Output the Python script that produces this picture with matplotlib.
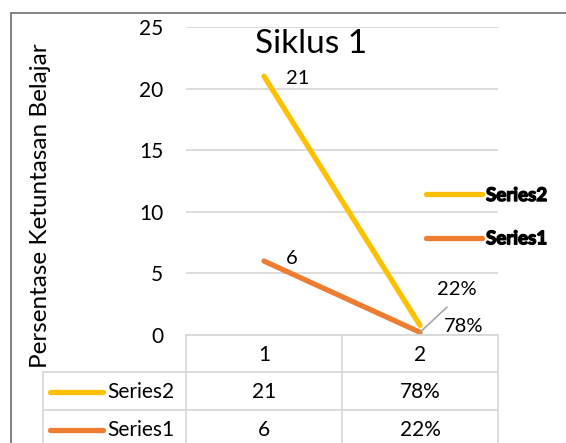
import matplotlib.pyplot as plt
from matplotlib.lines import Line2D
from matplotlib.patches import Rectangle
import matplotlib.patheffects as pe

plt.rcParams['font.family'] = ['Lato', 'DejaVu Sans']

# data
categories = [1, 2]
cat_labels = ['1', '2']
series2 = [21, 0.78]
series1 = [6, 0.22]
series2_text = ['21', '78%']
series1_text = ['6', '22%']
yticks = [0, 5, 10, 15, 20, 25]

C2 = '#FFC000'
C1 = '#ED7D31'
GRID = '#D9D9D9'

W, H = 566, 443
fig = plt.figure(figsize=(W / 100, H / 100), dpi=100)


def fx(px):
    return px / W


def fy(py):
    return 1 - py / H


# outer chart border
fig.add_artist(Rectangle((fx(11), fy(460)), fx(600) - fx(11), fy(13) - fy(460),
                         transform=fig.transFigure, fill=False, ec='#6e6e6e', lw=1.2))

ax = fig.add_axes([fx(186), fy(335), fx(498) - fx(186), fy(27) - fy(335)])
ax.set_xlim(0.5, 2.5)
ax.set_ylim(0, 25)
ax.set_yticks(yticks)
ax.set_xticks([])
ax.tick_params(axis='y', length=0, labelsize=15, pad=16.5)
for s in ax.spines.values():
    s.set_visible(False)
ax.grid(axis='y', color=GRID, lw=1.3)
ax.set_axisbelow(True)

l1, = ax.plot(categories, series1, color=C1, lw=3.8, solid_capstyle='round', clip_on=False)
l2, = ax.plot(categories, series2, color=C2, lw=3.8, solid_capstyle='round', clip_on=False)

ax.text(0.40, 0.945, 'Siklus 1', transform=ax.transAxes, ha='center', va='center', fontsize=24)
fig.text(fx(41), fy(206), 'Persentase Ketuntasan Belajar', rotation=90,
         ha='center', va='center', fontsize=17.5)

# data labels
fs_lab = 14.5
ax.annotate(series2_text[0], (categories[0], series2[0]), xytext=(34, -2),
            textcoords='offset pixels', ha='center', va='center', fontsize=fs_lab)
ax.annotate(series1_text[0], (categories[0], series1[0]), xytext=(28, 3),
            textcoords='offset pixels', ha='center', va='center', fontsize=fs_lab)
ax.annotate(series2_text[1], (categories[1], series2[1]), xytext=(44, -1),
            textcoords='offset pixels', ha='center', va='center', fontsize=fs_lab)
ax.annotate(series1_text[1], (categories[1], series1[1]), xytext=(37, 43),
            textcoords='offset pixels', ha='center', va='center', fontsize=fs_lab,
            arrowprops=dict(arrowstyle='-', color='#A6A6A6', lw=1.2,
                            relpos=(0.5, 0), shrinkA=7, shrinkB=0))

# legend
leg = ax.legend([l2, l1], ['Series2', 'Series1'], loc='upper left',
                bbox_to_anchor=(fx(426), fy(187)), bbox_transform=fig.transFigure,
                frameon=False, fontsize=13.5, handlelength=3.0, handletextpad=0.2,
                labelspacing=1.4, borderpad=0, borderaxespad=0)
for t in leg.get_texts():
    t.set_fontweight('bold')
    t.set_path_effects([pe.withStroke(linewidth=1.0, foreground='black')])

# data table
rows = [372, 410, 448]
x_left, x_mid, x_right = 186, 342, 498
tl = dict(color=GRID, lw=1.3, transform=fig.transFigure)
fig.add_artist(Line2D([fx(x_left), fx(x_right)], [fy(335), fy(335)], **tl))
for r in rows:
    fig.add_artist(Line2D([fx(43), fx(x_right)], [fy(r), fy(r)], **tl))
for xv in [x_left, x_mid, x_right]:
    fig.add_artist(Line2D([fx(xv), fx(xv)], [fy(335), fy(460)], **tl))
fig.add_artist(Line2D([fx(43), fx(43)], [fy(372), fy(460)], **tl))

fs_tab = 15
row_y = [355, 392, 430]
for c, lab in zip(categories, cat_labels):
    xc = ax.transData.transform((c, 0))[0] / W
    fig.text(xc, fy(row_y[0]), lab, ha='center', va='center', fontsize=fs_tab)
    fig.text(xc, fy(row_y[1]), series2_text[c - 1], ha='center', va='center', fontsize=fs_tab)
    fig.text(xc, fy(row_y[2]), series1_text[c - 1], ha='center', va='center', fontsize=fs_tab)

for yy, name, col in [(row_y[1], 'Series2', C2), (row_y[2], 'Series1', C1)]:
    fig.add_artist(Line2D([fx(50), fx(103)], [fy(yy), fy(yy)], color=col, lw=3.8,
                          solid_capstyle='round', transform=fig.transFigure))
    fig.text(fx(107), fy(yy), name, ha='left', va='center', fontsize=fs_tab)

fig.savefig('out.png', dpi=100)
